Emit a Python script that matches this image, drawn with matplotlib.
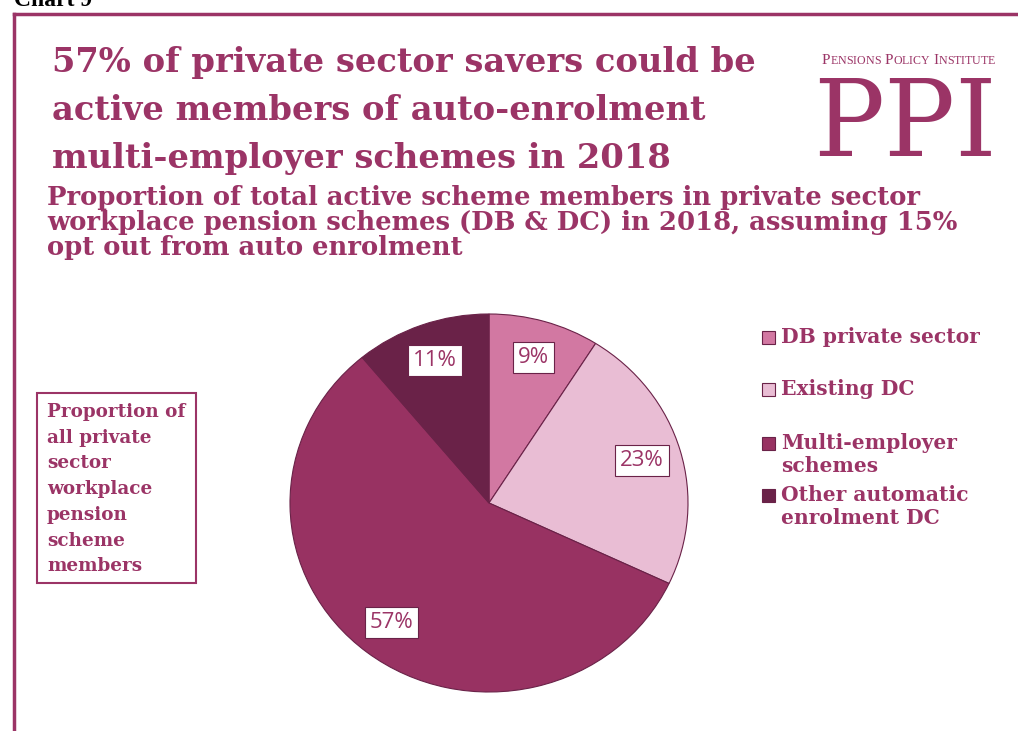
import matplotlib
matplotlib.use("Agg")
import matplotlib.pyplot as plt
from matplotlib.patches import Rectangle

W, H = 1018, 731
PLUM = "#9B3466"
EDGE = "#6A2248"

labels = ["DB private sector", "Existing DC", "Multi-employer\nschemes", "Other automatic\nenrolment DC"]
shares = [9, 23, 57, 11]
colors = ["#D278A2", "#E9BDD4", "#983262", "#6A2248"]

title_lines = ["57% of private sector savers could be",
               "active members of auto-enrolment",
               "multi-employer schemes in 2018"]
subtitle_lines = ["Proportion of total active scheme members in private sector",
                  "workplace pension schemes (DB & DC) in 2018, assuming 15%",
                  "opt out from auto enrolment"]
box_lines = ["Proportion of", "all private", "sector", "workplace", "pension", "scheme", "members"]

fig = plt.figure(figsize=(W / 100, H / 100), dpi=100)
fig.patch.set_facecolor("white")
renderer = fig.canvas.get_renderer()


def fx(x):
    return x / W


def fy(y):
    return 1 - y / H


def txt(x, y, s, **kw):
    return fig.text(fx(x), fy(y), s, **kw)


def small_caps(x, y, s, big, small, **kw):
    # capitals at full size, the rest as shrunken capitals
    for word in s.split(" "):
        for i, ch in enumerate(word):
            t = txt(x, y, ch.upper(), fontsize=big if i == 0 else small, va="baseline", **kw)
            x += t.get_window_extent(renderer).width
        x += big * 0.35


serif = ["DejaVu Serif"]

# outer frame: top and left rules
fig.add_artist(plt.Line2D([fx(14), 1], [fy(14), fy(14)], color=PLUM, lw=2.5))
fig.add_artist(plt.Line2D([fx(14), fx(14)], [fy(14), 0], color=PLUM, lw=2.5))

txt(14, 6, "Chart 9", family=["Liberation Serif"], weight="bold", fontsize=17,
    color="black", va="baseline")

# headline
for i, line in enumerate(title_lines):
    txt(52, 72 + i * 48, line, family=serif, weight="bold", fontsize=24.3,
        color=PLUM, va="baseline")

# subtitle
for i, line in enumerate(subtitle_lines):
    txt(47, 205 + i * 25, line, family=serif, weight="bold", fontsize=18.6,
        color=PLUM, va="baseline")

# logo
small_caps(822, 64, "Pensions Policy Institute", 11, 8.6, family=["Liberation Serif"], color=PLUM)
txt(905, 156, "PPI", family=serif, fontsize=76, color=PLUM, ha="center", va="baseline")

# side note box
fig.add_artist(Rectangle((fx(37), fy(583)), fx(196 - 37), (583 - 393) / H,
                         fill=False, edgecolor=PLUM, lw=1.5))
for i, line in enumerate(box_lines):
    txt(47, 417 + i * 25.7, line, family=serif, weight="bold", fontsize=13.2,
        color=PLUM, va="baseline")

# pie
ax = fig.add_axes([fx(290), fy(692), fx(688 - 290), (692 - 314) / H])
wedges, _, autotexts = ax.pie(
    shares, colors=colors, startangle=90, counterclock=False, radius=1,
    autopct=lambda p: f"{p:.0f}%", pctdistance=0.8,
    wedgeprops=dict(edgecolor=EDGE, linewidth=0.8),
    textprops=dict(color=PLUM, fontsize=16, family="Open Sans"))
for t in autotexts:
    t.set_bbox(dict(boxstyle="square,pad=0.22", facecolor="white", edgecolor=EDGE, lw=0.8))
ax.set_aspect("auto")
ax.set_xlim(-1, 1)
ax.set_ylim(-1, 1)
ax.axis("off")

# legend
leg_y = [337, 389, 443, 495]
for lab, col, y in zip(labels, colors, leg_y):
    fig.add_artist(Rectangle((fx(762), fy(y + 7)), fx(13), 13 / H,
                             facecolor=col, edgecolor=EDGE, lw=0.8))
    txt(781, y - 10, lab, family=serif, weight="bold", fontsize=14.6, color=PLUM,
        va="top", linespacing=1.2)

fig.savefig("out.png", dpi=100)
